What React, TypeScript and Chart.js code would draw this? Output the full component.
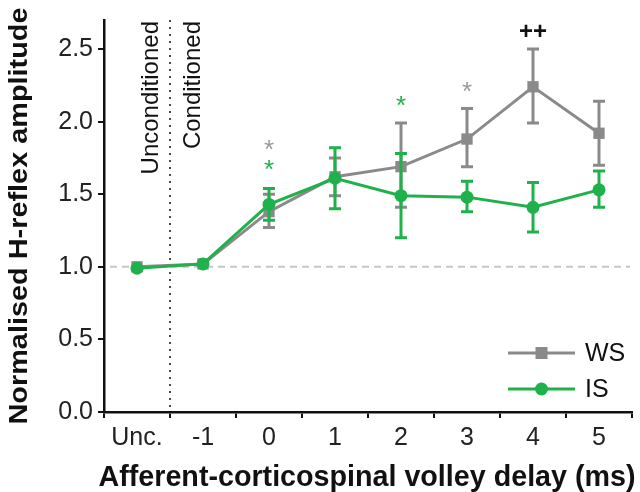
import React, { useEffect, useRef } from "react";
import { Chart, registerables } from "chart.js";

Chart.register(...registerables);

// ---- data ----
const categories = ["Unc.", "-1", "0", "1", "2", "3", "4", "5"];
const yTickValues = [0, 0.5, 1.0, 1.5, 2.0, 2.5];
const yMin = 0;
const yMax = 2.7;
const referenceLevel = 1.0;

const wsMean = [1.0, 1.02, 1.38, 1.62, 1.69, 1.88, 2.24, 1.92];
const wsLow = [null, null, 1.27, 1.49, 1.41, 1.69, 1.99, 1.70];
const wsHigh = [null, null, 1.5, 1.75, 1.99, 2.09, 2.5, 2.14];

const isMean = [0.99, 1.02, 1.43, 1.61, 1.49, 1.48, 1.41, 1.53];
const isLow = [null, null, 1.32, 1.4, 1.2, 1.38, 1.24, 1.41];
const isHigh = [null, null, 1.54, 1.82, 1.78, 1.59, 1.58, 1.66];

const markCategories = ["0", "0", "2", "3", "4"];
const markValues = [1.82, 1.68, 2.12, 2.22, 2.6];
const markTexts = ["*", "*", "*", "*", "++"];
const markSeries = ["WS", "IS", "IS", "WS", "both"];

const seriesNames = ["WS", "IS"];
const dividerLabels = ["Unconditioned", "Conditioned"];
const xTitle = "Afferent-corticospinal volley delay (ms)";
const yTitle = "Normalised H-reflex amplitude";

// ---- styles ----
const GRAY = "#8a8a8a";
const GREEN = "#1fb14b";
const FONT = '"Liberation Sans", Arial, Helvetica, sans-serif';

const decorPlugin = {
  id: "decor",
  beforeDatasetsDraw(chart: any) {
    const { ctx, chartArea: a, scales } = chart;
    const x = scales.x;
    const y = scales.y;
    ctx.save();
    // dashed reference line
    const yy = y.getPixelForValue(referenceLevel);
    ctx.strokeStyle = "#c6c6c6";
    ctx.lineWidth = 2;
    ctx.setLineDash([7, 5]);
    ctx.beginPath();
    ctx.moveTo(a.left + 6, yy);
    ctx.lineTo(a.right - 2, yy);
    ctx.stroke();
    // dotted divider
    const xd = (x.getPixelForValue(0) + x.getPixelForValue(1)) / 2;
    ctx.strokeStyle = "#4a4a4a";
    ctx.lineWidth = 2;
    ctx.setLineDash([2, 5]);
    ctx.beginPath();
    ctx.moveTo(xd, a.top);
    ctx.lineTo(xd, a.bottom);
    ctx.stroke();
    ctx.setLineDash([]);
    // rotated divider labels
    ctx.fillStyle = "#111";
    ctx.font = "24px " + FONT;
    ctx.textAlign = "right";
    ctx.textBaseline = "middle";
    const offsets = [-19, 23];
    dividerLabels.forEach((t, i) => {
      ctx.save();
      ctx.translate(xd + offsets[i], a.top + 1);
      ctx.rotate(-Math.PI / 2);
      ctx.fillText(t, 0, 0);
      ctx.restore();
    });
    ctx.restore();
  },
  afterDatasetDraw(chart: any, args: any) {
    const { ctx, scales } = chart;
    const x = scales.x;
    const y = scales.y;
    const ds = chart.data.datasets[args.index];
    const low = ds.errLow;
    const high = ds.errHigh;
    ctx.save();
    ctx.strokeStyle = ds.borderColor;
    ctx.lineWidth = 3;
    for (let i = 0; i < low.length; i++) {
      if (low[i] == null || high[i] == null) continue;
      const px = x.getPixelForValue(i);
      const y1 = y.getPixelForValue(low[i]);
      const y2 = y.getPixelForValue(high[i]);
      ctx.beginPath();
      ctx.moveTo(px, y1);
      ctx.lineTo(px, y2);
      ctx.moveTo(px - 6, y1);
      ctx.lineTo(px + 6, y1);
      ctx.moveTo(px - 6, y2);
      ctx.lineTo(px + 6, y2);
      ctx.stroke();
    }
    ctx.restore();
  },
  afterDraw(chart: any) {
    const { ctx, chartArea: a, scales } = chart;
    const x = scales.x;
    const y = scales.y;
    ctx.save();
    // significance marks
    markTexts.forEach((t, i) => {
      const px = x.getPixelForValue(categories.indexOf(markCategories[i]));
      const py = y.getPixelForValue(markValues[i]);
      const s = markSeries[i];
      ctx.textAlign = "center";
      ctx.textBaseline = "alphabetic";
      if (t === "*") {
        ctx.fillStyle = s === "WS" ? "#9a9a9a" : GREEN;
        ctx.font = "26px " + FONT;
        ctx.fillText(t, px, py + 26 * 0.38);
      } else {
        ctx.fillStyle = "#111";
        ctx.font = "bold 24px " + FONT;
        ctx.fillText(t, px, py + 24 * 0.2);
      }
    });
    // legend
    const colors = [GRAY, GREEN];
    const legY = [a.bottom - 59, a.bottom - 23];
    seriesNames.forEach((n, i) => {
      const x1 = a.right - 124;
      const x2 = a.right - 57;
      const cy = legY[i];
      ctx.strokeStyle = colors[i];
      ctx.fillStyle = colors[i];
      ctx.lineWidth = 3;
      ctx.beginPath();
      ctx.moveTo(x1, cy);
      ctx.lineTo(x2, cy);
      ctx.stroke();
      const cx = (x1 + x2) / 2;
      if (i === 0) {
        ctx.fillRect(cx - 6, cy - 6, 12, 12);
      } else {
        ctx.beginPath();
        ctx.arc(cx, cy, 6.5, 0, Math.PI * 2);
        ctx.fill();
      }
      ctx.fillStyle = "#111";
      ctx.font = "25px " + FONT;
      ctx.textAlign = "left";
      ctx.textBaseline = "middle";
      ctx.fillText(n, a.right - 47, cy + 1);
    });
    // axis titles
    ctx.fillStyle = "#111";
    ctx.font = "bold 29px " + FONT;
    ctx.textAlign = "center";
    ctx.textBaseline = "alphabetic";
    const xw = ctx.measureText(xTitle).width;
    ctx.save();
    ctx.translate((a.left + a.right) / 2 - 1, 486);
    ctx.scale(537 / xw, 1);
    ctx.fillText(xTitle, 0, 0);
    ctx.restore();
    ctx.save();
    ctx.translate(27, (a.top + a.bottom) / 2);
    ctx.rotate(-Math.PI / 2);
    ctx.font = "bold 26px " + FONT;
    const w = ctx.measureText(yTitle).width;
    ctx.scale(417 / w, 1);
    ctx.fillText(yTitle, 0, 0);
    ctx.restore();
    ctx.restore();
  },
};

export default function App() {
  const ref = useRef<HTMLCanvasElement | null>(null);
  useEffect(() => {
    if (!ref.current) return;
    const chart = new Chart(ref.current, {
      type: "line",
      data: {
        labels: categories,
        datasets: [
          {
            label: seriesNames[0],
            data: wsMean,
            errLow: wsLow,
            errHigh: wsHigh,
            borderColor: GRAY,
            backgroundColor: GRAY,
            borderWidth: 3,
            pointStyle: "rect",
            pointRadius: 8,
            pointBorderWidth: 0,
            tension: 0,
            order: 1,
          } as any,
          {
            label: seriesNames[1],
            data: isMean,
            errLow: isLow,
            errHigh: isHigh,
            borderColor: GREEN,
            backgroundColor: GREEN,
            borderWidth: 3,
            pointStyle: "circle",
            pointRadius: 6.5,
            pointBorderWidth: 0,
            tension: 0,
            order: 0,
          } as any,
        ],
      },
      options: {
        animation: false,
        responsive: false,
        layout: { padding: { top: 14, right: 8, left: 0, bottom: 0 } },
        plugins: {
          legend: { display: false },
          tooltip: { enabled: false },
          title: { display: false },
        },
        scales: {
          x: {
            type: "category",
            offset: true,
            grid: {
              offset: true,
              drawOnChartArea: false,
              drawTicks: true,
              tickLength: 6,
              color: "#111",
              lineWidth: 2,
            },
            border: { display: true, color: "#111", width: 2.5 },
            ticks: {
              color: "#222",
              font: { family: FONT, size: 25 },
              padding: 5,
              maxRotation: 0,
              autoSkip: false,
            },
            afterFit: (s: any) => {
              s.height = 80;
            },
          },
          y: {
            min: yMin,
            max: yMax,
            afterBuildTicks: (s: any) => {
              s.ticks = yTickValues.map((v) => ({ value: v }));
            },
            grid: {
              drawOnChartArea: false,
              drawTicks: true,
              tickLength: 6,
              color: "#111",
              lineWidth: 2,
            },
            border: { display: true, color: "#111", width: 2.5 },
            ticks: {
              color: "#222",
              font: { family: FONT, size: 25 },
              padding: 5,
              callback: (v: any) => Number(v).toFixed(1),
            },
            afterFit: (s: any) => {
              s.width = 104;
            },
          },
        },
      },
      plugins: [decorPlugin],
    });
    return () => chart.destroy();
  }, []);
  return (
    <div style={{ position: "absolute", left: 0, top: 0, width: 640, height: 492, background: "#fff" }}>
      <canvas ref={ref} width={640} height={492} style={{ display: "block" }} />
    </div>
  );
}
